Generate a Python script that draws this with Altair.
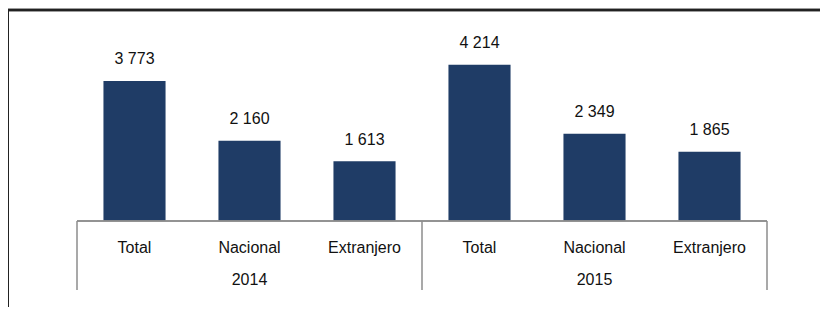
import altair as alt
import pandas as pd

years = ["2014", "2014", "2014", "2015", "2015", "2015"]
categories = ["Total", "Nacional", "Extranjero", "Total", "Nacional", "Extranjero"]
values = [3773, 2160, 1613, 4214, 2349, 1865]
year_labels = ["2014", "2015"]

keys = [f"{y}|{c}" for y, c in zip(years, categories)]
labels = [f"{v:,}".replace(",", " ") for v in values]

df = pd.DataFrame({"key": keys, "year": years, "cat": categories,
                   "value": values, "label": labels})
df_year = pd.DataFrame({"key": [f"{y}|Nacional" for y in year_labels],
                        "year": year_labels})

W, H = 812, 299
X0, X1 = 69, 759
BASE = 213
FONT = "Liberation Sans Narrow, Arial Narrow, Liberation Sans, sans-serif"
FS = 16
GREY = "#8c8c8c"

xscale = alt.Scale(domain=keys, range=[X0, X1], paddingInner=0.46, paddingOuter=0.23)
yscale = alt.Scale(domain=[0, 5740], range=[BASE, 0])
X = alt.X("key:N", scale=xscale, axis=None, sort=keys)

base = alt.Chart(df)

bars = base.mark_bar(color="#1F3C66").encode(
    x=X, y=alt.Y("value:Q", scale=yscale, axis=None))

vals = base.mark_text(font=FONT, fontSize=FS, color="#111", dy=-16.5,
                      baseline="alphabetic").encode(
    x=X, y=alt.Y("value:Q", scale=yscale, axis=None), text="label:N")

cats = base.mark_text(font=FONT, fontSize=FS, color="#111",
                      baseline="alphabetic").encode(
    x=X, y=alt.value(245), text="cat:N")

yrs = alt.Chart(df_year).mark_text(font=FONT, fontSize=FS, color="#111",
                                    baseline="alphabetic").encode(
    x=X, y=alt.value(276.5), text="year:N")

mid = (X0 + X1) / 2
hline = alt.Chart(df_year).mark_rule(color=GREY, strokeWidth=1.5).encode(
    x=alt.value(X0), x2=alt.value(X1), y=alt.value(BASE))
sep_df = pd.DataFrame({"px": [X0, mid, X1]})
seps = alt.Chart(sep_df).mark_rule(color=GREY, strokeWidth=1.5).encode(
    x=alt.X("px:Q", scale=alt.Scale(domain=[0, W], range=[0, W]), axis=None),
    y=alt.value(BASE), y2=alt.value(282))

frame_top = alt.Chart(df_year).mark_rule(color="#222", strokeWidth=2.5).encode(
    x=alt.value(0), x2=alt.value(W + 20), y=alt.value(2))
frame_left = alt.Chart(df_year).mark_rule(color="#222", strokeWidth=2).encode(
    x=alt.value(0), y=alt.value(2), y2=alt.value(H + 20))

chart = alt.layer(bars, vals, cats, yrs, hline, seps, frame_top, frame_left).resolve_scale(
    x="independent"
).properties(
    width=W, height=H, padding=0, autosize=alt.AutoSizeParams(type="none")
).configure_view(stroke=None)

chart.save("out.html", embed_options={"renderer": "svg", "actions": False})
